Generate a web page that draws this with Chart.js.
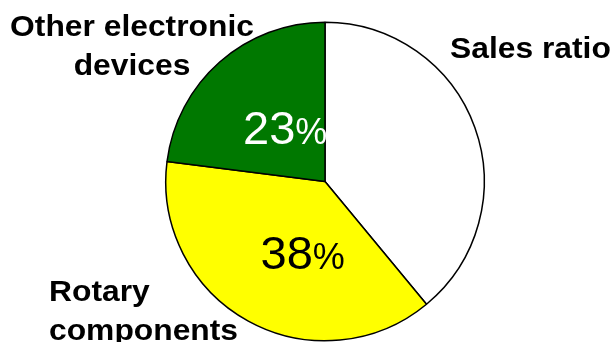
<!DOCTYPE html>
<html>
<head>
<meta charset="utf-8">
<script src="https://cdn.jsdelivr.net/npm/chart.js@4.4.0/dist/chart.umd.min.js"></script>
<style>
    html, body { margin: 0; padding: 0; background: #ffffff; }
    #wrap { width: 613px; height: 342px; position: relative; }
</style>
</head>
<body>
<div id="wrap"><canvas id="myChart"></canvas></div>
<script>
// chart data
var categories = ['Sales ratio', 'Rotary components', 'Other electronic devices'];
var shares = [39, 38, 23];
var sliceColours = ['#ffffff', '#ffff00', '#007800'];
var percentColours = [null, '#000000', '#ffffff'];

// where each label sits (text lines, anchor on canvas, alignment)
var categoryLabels = [
    { lines: ['Sales ratio'], x: 450, y: 58, align: 'left' },
    { lines: ['Rotary', 'components'], x: 49, y: 301, align: 'left' },
    { lines: ['Other electronic', 'devices'], x: 132, y: 36, align: 'center' }
];
// percent label position as fraction of radius from the centre (dx, dy)
var percentOffsets = [null, [-0.14, 0.44], [-0.25, -0.34]];

var labelPlugin = {
    id: 'labelPlugin',
    afterDraw: function (chart) {
        var ctx = chart.ctx;
        var meta = chart.getDatasetMeta(0);
        ctx.save();
        ctx.textBaseline = 'alphabetic';

        // percentages inside the slices
        meta.data.forEach(function (arc, i) {
            if (!percentOffsets[i]) {
                return;
            }
            var r = arc.outerRadius;
            var cx = arc.x + percentOffsets[i][0] * r;
            var cy = arc.y + percentOffsets[i][1] * r + 17;
            var num = String(shares[i]);
            ctx.fillStyle = percentColours[i];
            ctx.font = '47px "Liberation Sans", Arial, sans-serif';
            var numW = ctx.measureText(num).width;
            ctx.font = '36px "Liberation Sans", Arial, sans-serif';
            var pctW = ctx.measureText('%').width;
            var left = cx - (numW + pctW) / 2;
            ctx.textAlign = 'left';
            ctx.font = '47px "Liberation Sans", Arial, sans-serif';
            ctx.fillText(num, left, cy);
            ctx.font = '36px "Liberation Sans", Arial, sans-serif';
            ctx.fillText('%', left + numW, cy);
        });

        // category names outside the pie, slightly stretched sideways
        var stretch = 1.06;
        ctx.fillStyle = '#000000';
        ctx.font = 'bold 30px "Liberation Sans", Arial, sans-serif';
        categoryLabels.forEach(function (lab) {
            ctx.textAlign = lab.align;
            lab.lines.forEach(function (line, j) {
                ctx.save();
                ctx.translate(lab.x, lab.y + j * 39);
                ctx.scale(stretch, 1);
                ctx.fillText(line, 0, 0);
                ctx.restore();
            });
        });
        ctx.restore();
    }
};

var chart = new Chart(document.getElementById('myChart'), {
    type: 'pie',
    data: {
        labels: categories,
        datasets: [{
            data: shares,
            backgroundColor: sliceColours,
            borderColor: '#000000',
            borderWidth: 1.5
        }]
    },
    options: {
        responsive: true,
        maintainAspectRatio: false,
        animation: false,
        rotation: 0,
        layout: {
            padding: { top: 21, bottom: 0, left: 165, right: 128 }
        },
        plugins: {
            legend: { display: false },
            tooltip: { enabled: false },
            title: { display: false }
        }
    },
    plugins: [labelPlugin]
});
</script>
</body>
</html>
